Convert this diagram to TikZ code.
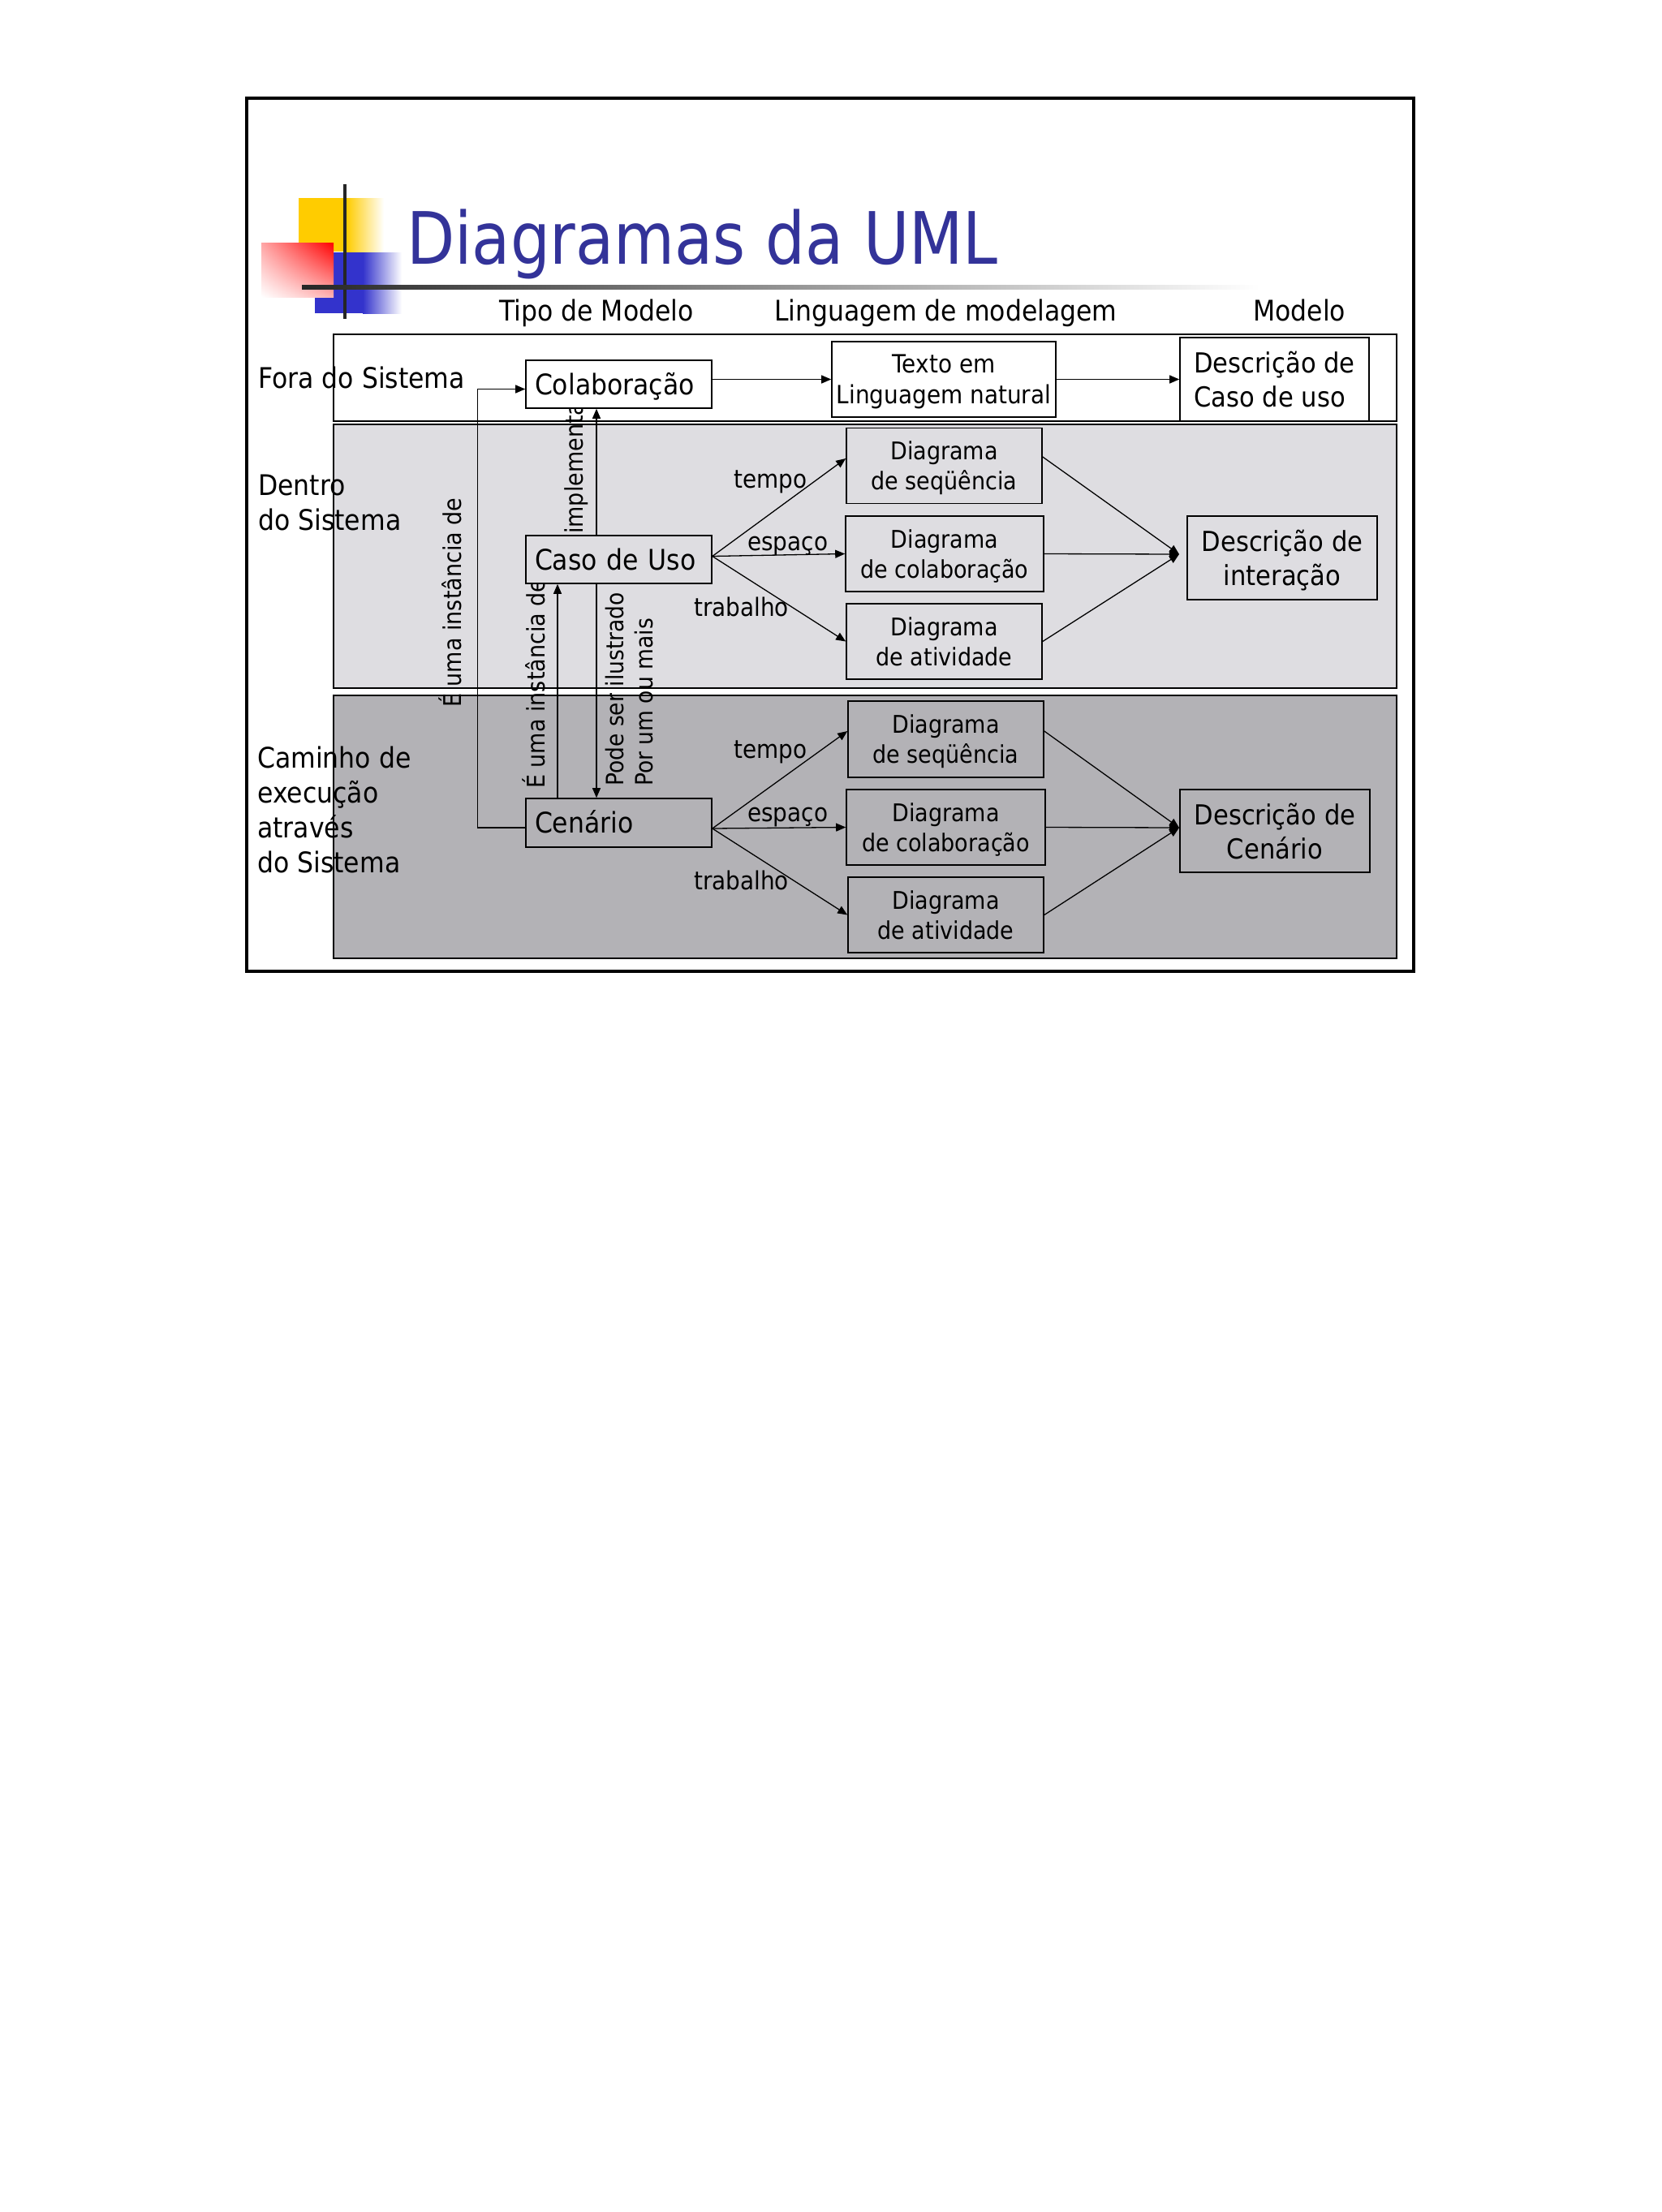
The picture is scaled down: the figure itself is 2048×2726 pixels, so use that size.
\documentclass[tikz,border=0pt]{standalone}
\usepackage{fontspec}
\setmainfont{DejaVu Sans}[FakeStretch=0.9]
\newfontfamily\titlefont{DejaVu Sans}[FakeStretch=0.865]
\usepackage{tikz}
\usetikzlibrary{arrows.meta}
\usetikzlibrary{calc, shadings}
\definecolor{titleblue}{RGB}{51,51,153}
\definecolor{bandlight}{RGB}{222,221,225}
\definecolor{banddark}{RGB}{179,178,182}
\definecolor{logoyellow}{RGB}{255,204,0}
\definecolor{logoblue}{RGB}{51,51,204}

\begin{document}
\begin{tikzpicture}[x=1pt, y=-1pt,
    band/.style={draw=black, line width=1.6pt},
    mainbox/.style={draw=black, line width=1.6pt, minimum width=229pt, minimum height=59pt,
        text width=207pt, inner xsep=11pt, inner ysep=0pt, align=left,
        text height=25.5pt, text depth=0pt, font=\fontsize{35}{42}\selectfont},
    dbox/.style={draw=black, line width=1.6pt, minimum width=241pt, minimum height=93pt,
        inner sep=0pt, align=center, text depth=0pt, font=\fontsize{30}{37}\selectfont},
    descbox/.style={draw=black, line width=1.6pt, minimum width=234pt, minimum height=103pt,
        inner sep=0pt, align=center, text depth=0pt, font=\fontsize{34}{42}\selectfont},
    sidetext/.style={inner sep=0pt, align=left, font=\fontsize{35}{43}\selectfont},
    headtext/.style={inner sep=0pt, anchor=base west, font=\fontsize{35}{42}\selectfont},
    vlabel/.style={rotate=90, inner sep=0pt, font=\fontsize{30}{36}\selectfont},
    arrlabel/.style={inner sep=0pt, anchor=base west, font=\fontsize{31}{36}\selectfont},
    arr/.style={-{Triangle[length=12pt,width=10pt]}, line width=1.3pt}]

    % page and slide frame
    \fill[white] (0,0) rectangle (2048,2726);
    \useasboundingbox (0,0) rectangle (2048,2726);
    \draw[line width=4pt] (304,121) rectangle (1742,1197);

    % logo
    \fill[logoyellow] (368,244) rectangle (427,310);
    \shade[left color=logoyellow, right color=white] (427,244) rectangle (473,310);
    \fill[logoblue] (388,311) rectangle (447,386);
    \shade[left color=logoblue, right color=white] (447,311) rectangle (495,386);
    \shade[upper right=red, lower left=white, upper left=red!35!white, lower right=red!30!white]
        (322,299) rectangle (411,366);
    \fill[black!85] (423,227) rectangle (427,393);
    \shade[left color=black!85, middle color=black!50, right color=white] (372,351.5) rectangle (1552,356.5);

    % title and column heads
    \node[anchor=base west, inner sep=0pt, text=titleblue, font=\titlefont\fontsize{89}{100}\selectfont]
        (titulo) at (501,325) {Diagramas da UML};
    \node[headtext] (tipo) at (615,395) {Tipo de Modelo};
    \node[headtext] (lingua) at (954,395) {Linguagem de modelagem};
    \node[headtext] (modelo) at (1544,395) {Modelo};

    % bands
    \draw[band, fill=white] (410.7,412) rectangle (1721,519);
    \draw[band, fill=bandlight] (410.7,523) rectangle (1721,848);
    \draw[band, fill=banddark] (410.7,857) rectangle (1721,1181);

    % rotated labels
    \node[vlabel, anchor=base west] (instA) at (568,872) {É uma instância de};
    \node[vlabel, anchor=base west] (instB) at (671,972) {É uma instância de};
    \node[vlabel, anchor=base west] (impl) at (718,658) {implementa};
    \node[vlabel, anchor=north west, align=left, font=\fontsize{29.5}{36}\selectfont]
        (ilust) at (745.6,969) {Pode ser ilustrado\\Por um ou mais};

    % boxes
    \node[mainbox, fill=white] (colab) at (762.5,473.5) {Colaboração};
    \node[dbox, fill=white, minimum width=276pt, font=\fontsize{31}{38}\selectfont]
        (texto) at (1163,467.5) {Texto em\\Linguagem natural};
    \node[descbox, fill=white, minimum width=233pt, align=left]
        (descUso) at (1570.5,467.5) {Descrição de\\Caso de uso};

    \node[mainbox, fill=bandlight] (casoUso) at (762.5,689.5) {Caso de Uso};
    \node[dbox, fill=bandlight] (seqA) at (1163.5,574) {Diagrama\\de seqüência};
    \node[dbox, fill=bandlight, minimum width=244pt] (colA) at (1164,682.5) {Diagrama\\de colaboração};
    \node[dbox, fill=bandlight] (atvA) at (1163.5,790.5) {Diagrama\\de atividade};
    \node[descbox, fill=bandlight] (descInter) at (1580,687.5) {Descrição de\\interação};

    \node[mainbox, fill=banddark, minimum height=60pt] (cenario) at (762.5,1014) {Cenário};
    \node[dbox, fill=banddark, minimum height=94pt] (seqB) at (1165.5,911) {Diagrama\\de seqüência};
    \node[dbox, fill=banddark, minimum width=245pt] (colB) at (1165.5,1019.5) {Diagrama\\de colaboração};
    \node[dbox, fill=banddark] (atvB) at (1165.5,1127.5) {Diagrama\\de atividade};
    \node[descbox, fill=banddark, minimum height=102pt] (descCen) at (1571,1024) {Descrição de\\Cenário};

    % side labels
    \node[sidetext, anchor=base west] (fora) at (318,478) {Fora do Sistema};
    \node[sidetext, anchor=north west] (dentro) at (318,584.5) {Dentro\\do Sistema};
    \node[sidetext, anchor=north west] (caminho) at (317,919.4) {Caminho de\\execução\\através\\do Sistema};

    % connectors
    \coordinate (fanA) at ([yshift=4pt]casoUso.east);
    \coordinate (fanB) at ([yshift=-7pt]cenario.east);
    \coordinate (joinA) at (1453,683);
    \coordinate (joinB) at (1453,1020);

    \draw[arr] (colab.east |- texto.west) -- (texto.west);
    \draw[arr] (texto.east) -- (descUso.west |- texto.east);
    \draw[arr] ([yshift=-6pt]cenario.west) -- ++(-59,0) |- ([yshift=-6pt]colab.west);
    \draw[arr] ([xshift=-27.5pt]casoUso.north) -- ([xshift=-27.5pt]colab.south);
    \draw[arr] ([xshift=-27.5pt]casoUso.south) -- ([xshift=-27.5pt]cenario.north);
    \draw[arr] ([xshift=-75.5pt]cenario.north) -- ([xshift=-75.5pt]casoUso.south);

    \draw[arr] (fanA) -- ([yshift=9pt]seqA.west);
    \draw[arr] (fanA) -- (colA.west);
    \draw[arr] (fanA) -- (atvA.west);
    \draw[arr] ([yshift=11pt]seqA.east) -- (joinA);
    \draw[arr] (colA.east) -- (joinA);
    \draw[arr] (atvA.east) -- (joinA);

    \draw[arr] (fanB) -- ([yshift=10pt]seqB.west);
    \draw[arr] (fanB) -- (colB.west);
    \draw[arr] (fanB) -- (atvB.west);
    \draw[arr] ([yshift=10pt]seqB.east) -- (joinB);
    \draw[arr] (colB.east) -- (joinB);
    \draw[arr] (atvB.east) -- (joinB);

    % arrow labels
    \node[arrlabel] (tempoA) at (904,601) {tempo};
    \node[arrlabel] (espacoA) at (921,678) {espaço};
    \node[arrlabel] (trabA) at (855,759) {trabalho};
    \node[arrlabel] (tempoB) at (904,934) {tempo};
    \node[arrlabel] (espacoB) at (921,1012) {espaço};
    \node[arrlabel] (trabB) at (855,1096) {trabalho};
\end{tikzpicture}
\end{document}
